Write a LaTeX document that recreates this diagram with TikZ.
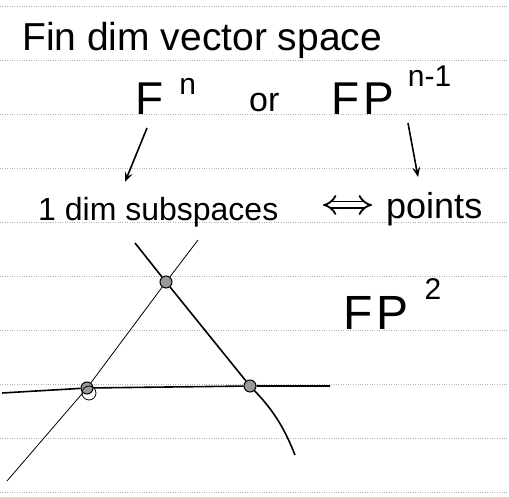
\documentclass[tikz,border=0pt]{standalone}
\usepackage{fontspec}
\setmainfont{Liberation Sans}
\usepackage{tikz}
\usetikzlibrary{arrows.meta}
\newcommand{\hw}[1]{\fontsize{#1}{#1}\selectfont}
\newcommand{\sups}[2]{\raisebox{#1}{\hw{30}#2}}

\begin{document}
\begin{tikzpicture}[>={Stealth[length=10pt,width=8pt,inset=4pt]},x=1pt,y=-1pt,
    ink/.style={line width=1.6pt},
    thin ink/.style={line width=0.8pt},
    dot/.style={circle,draw,line width=1pt,fill=gray!80,inner sep=0pt,minimum size=12pt},
    txt/.style={anchor=base west,inner sep=0pt}]
  \useasboundingbox[fill=white] (0,0) rectangle (509,497);
  % ruled paper
  \foreach \y in {6,60,...,492}
    \draw[gray!60,dotted] (0,\y) -- (509,\y);
  % text
  \node[txt] (title) at (22,51) {\hw{39}Fin dim vector space};
  \node[txt] (fn) at (135,115) {\hw{46}F\hspace{16pt}\sups{20pt}{n}};
  \node[txt] (or) at (249,112) {\hw{34}or};
  \node[txt] (fp) at (331,115) {\hw{46}F\hspace{4pt}P\hspace{14pt}\sups{28pt}{n-1}};
  \node[txt] (sub) at (38,221) {\hw{32}1 dim subspaces};
  \node[txt] (pts) at (386,219) {\hw{36}points};
  \node[txt] (fp2) at (343,330) {\hw{48}F\hspace{4pt}P\hspace{16pt}\sups{30pt}{2}};
  \draw[->,ink] ([shift={(12,13)}]fn.base west) -- ([shift={(87,-39)}]sub.base west);
  \draw[->,ink] ([shift={(77,8)}]fp.base west) -- ([shift={(32,-42)}]pts.base west);
  \draw[line width=1.8pt,double,double distance=5pt,{Implies}-{Implies}] ([shift={(285,-16)}]sub.base west) -- ([shift={(-14,-14)}]pts.base west);
  % triangle
  \node[dot] (t) at (166,282) {};
  \node[dot] (l) at (87,388) {};
  \node[dot] (r) at (250,386) {};
  \draw[thin ink] (89,393) circle (7);
  \coordinate (a1) at (135,243);
  \coordinate (a2) at (295,455);
  \coordinate (b1) at (198,240);
  \coordinate (b2) at (7,481);
  \coordinate (c1) at (2,393);
  \coordinate (c2) at (330,386);
  \draw[ink] (a1) -- (t) -- (r) .. controls (275,412) and (285,430) .. (a2);
  \draw[thin ink] (b1) -- (t) -- (l) -- (b2);
  \draw[ink] (c1) -- (l) -- (r) -- (c2);
\end{tikzpicture}
\end{document}
